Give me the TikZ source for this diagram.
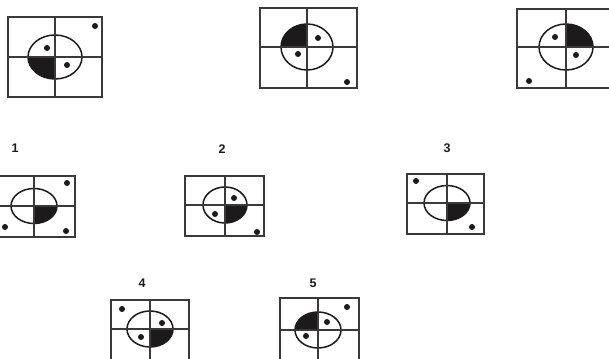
\documentclass[tikz,border=0pt]{standalone}
\usepackage{fontspec}
\setmainfont{Liberation Sans}
\usepackage{tikz}
\definecolor{ink}{HTML}{1C1A1A}
\definecolor{rule}{HTML}{3A3A3A}

\begin{document}
\begin{tikzpicture}[x=1pt,y=-1pt,
 frame/.style={draw=rule,line width=1.8pt},
 ring/.style={draw=ink,line width=1.5pt},
 quarter/.style={fill=ink},
 dot/.style={fill=ink},
 num/.style={font=\fontsize{12.5}{14}\selectfont\bfseries,text=ink,inner sep=0pt}]
\useasboundingbox (0,0) rectangle (609,358);
\clip (0,0) rectangle (609,358);
% panels: frame corners / centre / radii / start of the black quarter
\foreach \ax/\ay/\bx/\by/\cx/\cy/\rx/\ry/\sa in {
 8/17/102/97/55/57/27/22/90, 260/8/357/88/307/47/26/23/180,
 517/9/613/88/566/47/27/23/270, -4/176/75/237/34/206/23/17.5/0,
 185/176/264/236/225/205/22/18/0, 407/174/484/234/447/203/23/17.5/0,
 111/300/189/360/150/329/23/18/0, 280/298/359/360/318/330/23/18/180}{
 \fill[quarter] (\cx,\cy) -- ({\cx+\rx*cos(\sa)},{\cy+\ry*sin(\sa)})
   arc[start angle=\sa,delta angle=90,x radius=\rx,y radius=\ry] -- cycle;
 \draw[ring] (\cx,\cy) ellipse[x radius=\rx,y radius=\ry];
 \draw[frame] (\ax,\ay) rectangle (\bx,\by);
 \draw[frame] (\cx,\ay) -- (\cx,\by) (\ax,\cy) -- (\bx,\cy);
}
\foreach \x/\y in {47/48,67/65,95/26, 318/38,298/54,347/82, 555/37,576/55,529/81,
 67/183,5/227,66/231, 234/198,215/214,257/232, 416/181,472/227,
 122/309,162/323,141/337, 347/307,327/322,306/336}
 \fill[dot] (\x,\y) circle[radius=3];
\node[num] (n1) at (15,148) {1};
\node[num] (n2) at (222,149) {2};
\node[num] (n3) at (447,148) {3};
\node[num] (n4) at (142,283) {4};
\node[num] (n5) at (313,283) {5};
\end{tikzpicture}
\end{document}
